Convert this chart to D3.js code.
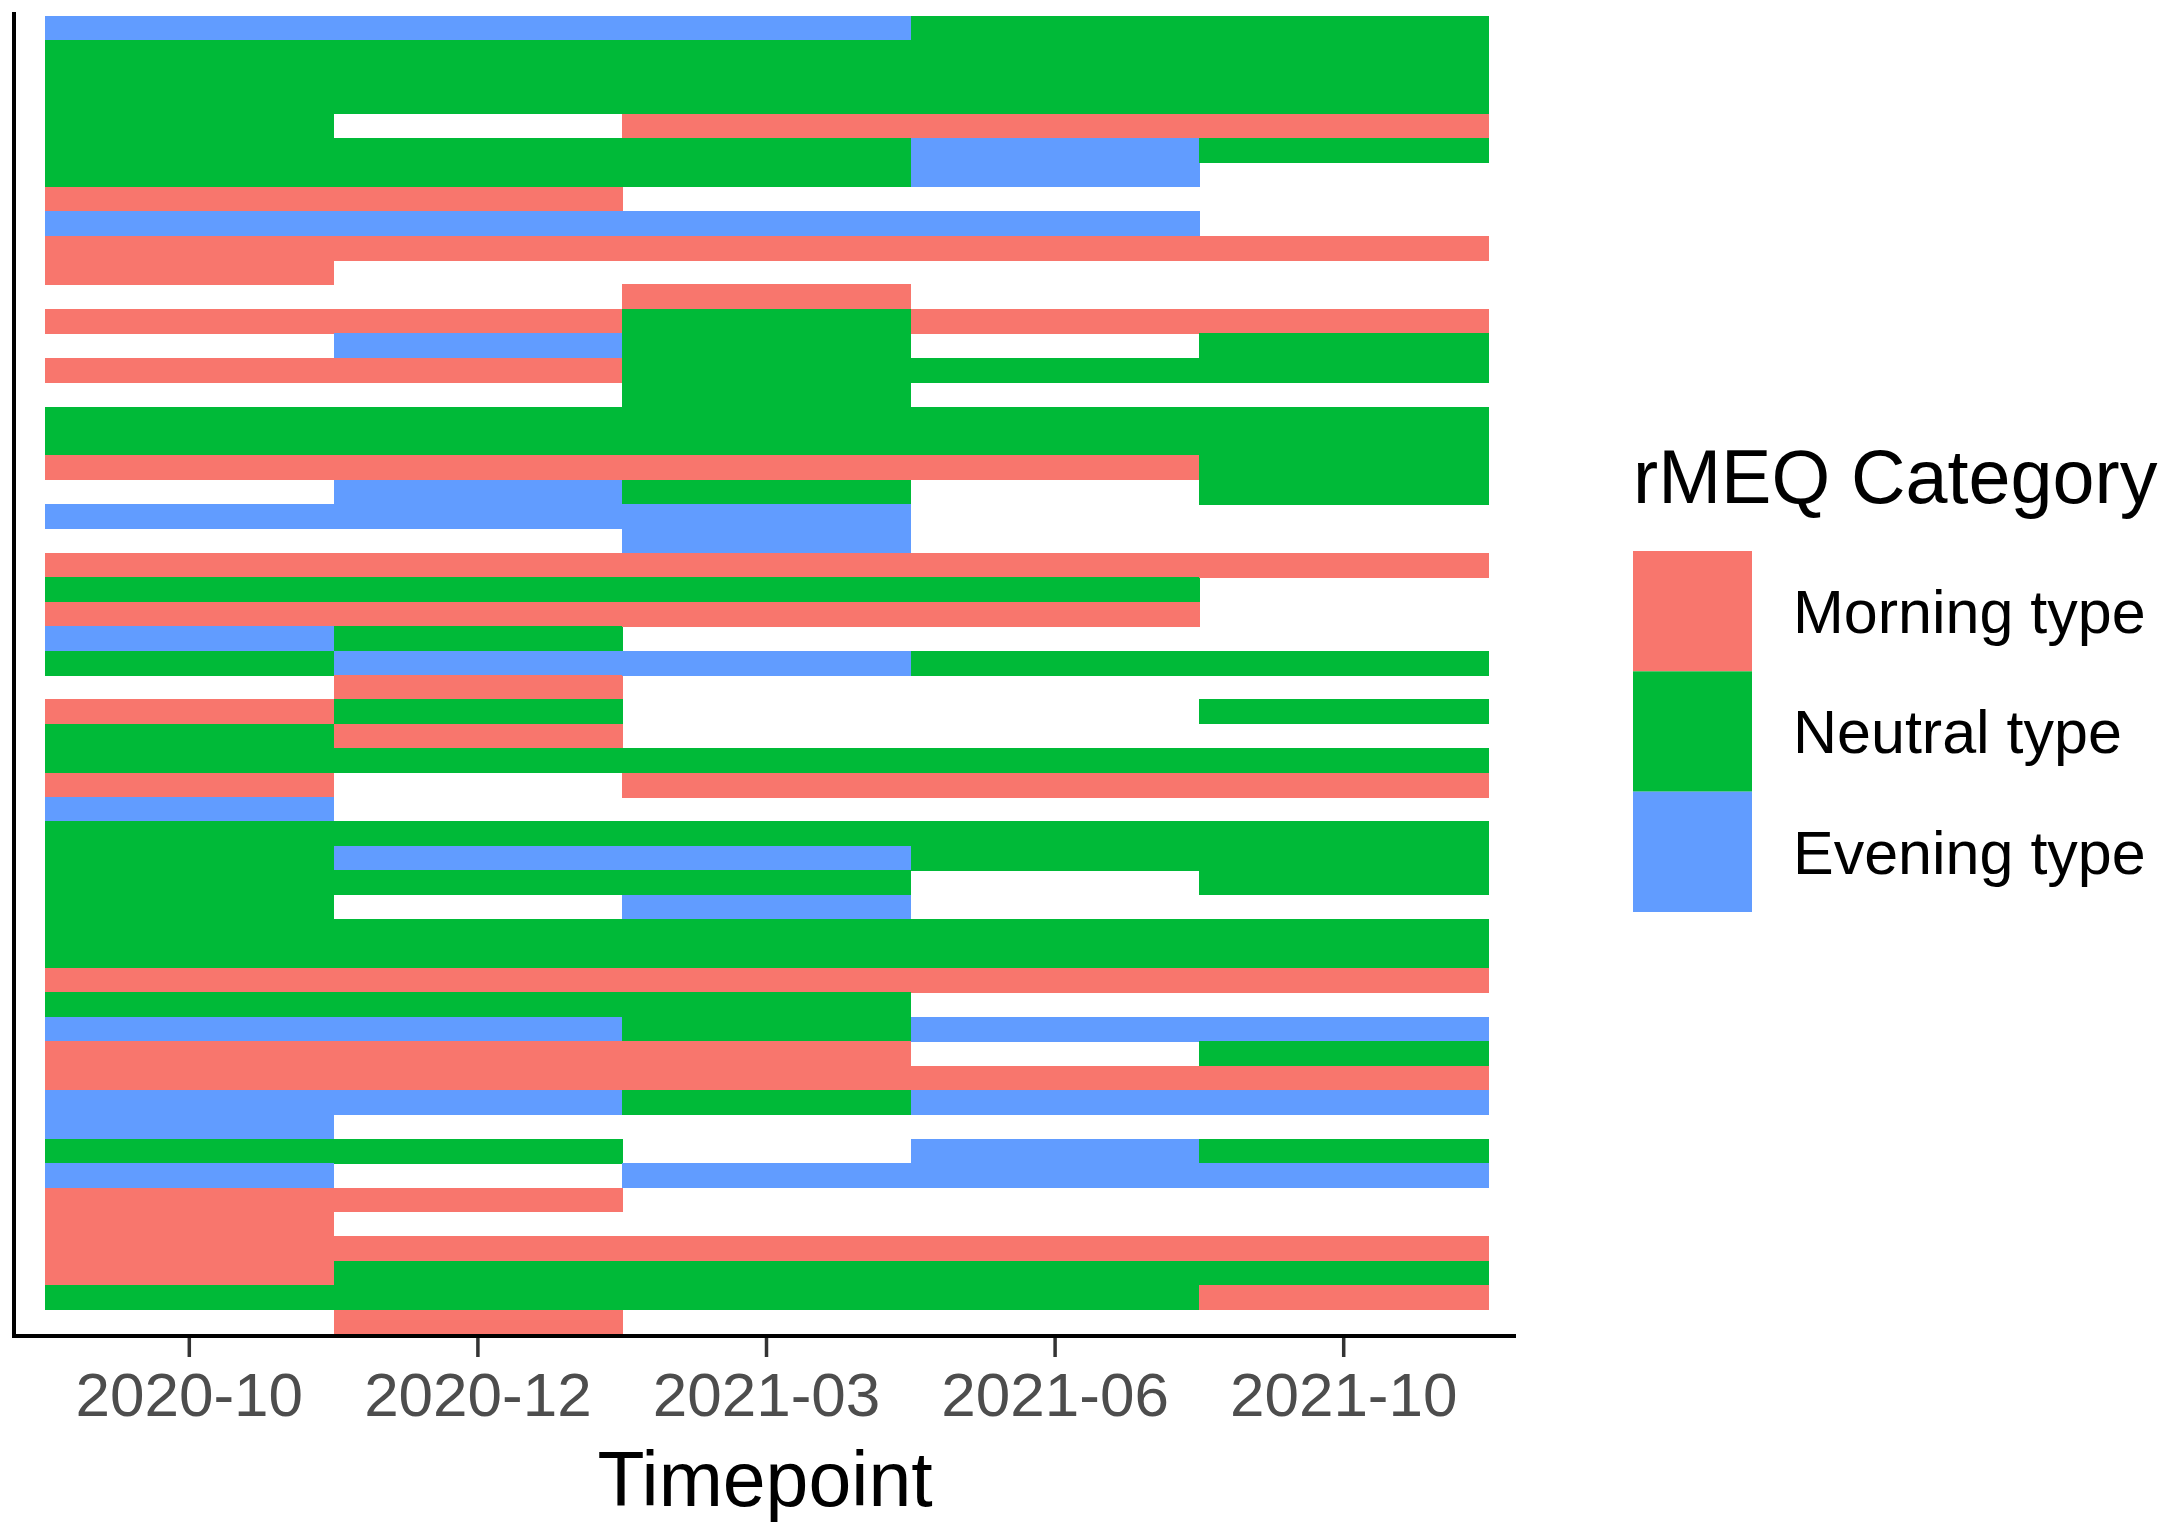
<!DOCTYPE html>
<html>
<head>
<meta charset="utf-8">
<script src="https://cdn.jsdelivr.net/npm/d3@7"></script>
<style>
  html, body { margin: 0; padding: 0; background: #ffffff; }
  svg { display: block; }
</style>
</head>
<body>
<svg id="chart" width="2178" height="1523"></svg>
<script>
// ---- data ----
const timepoints = ["2020-10", "2020-12", "2021-03", "2021-06", "2021-10"];
const categories = ["Morning type", "Neutral type", "Evening type"];
const categoryCodes = ["M", "N", "E"];
const categoryColors = ["#F8766D", "#00BA38", "#619CFF"];

// one array per timepoint, 54 participants each ("" = missing)
const tp2020_10 = ["E","N","N","N","N","N","N","M","E","M","M","","M","","M","","N","N","M","","E","","M","N","M","E","N","","M","N","N","M","E","N","N","N","N","N","N","M","N","E","M","M","E","E","N","E","M","M","M","M","N",""];
const tp2020_12 = ["E","N","N","N","","N","N","M","E","M","","","M","E","M","","N","N","M","E","E","","M","N","M","N","E","M","N","M","N","","","N","E","N","","N","N","M","N","E","M","M","E","","N","","M","","M","N","N","M"];
const tp2021_03 = ["E","N","N","N","M","N","N","","E","M","","M","N","N","N","N","N","N","M","N","E","E","M","N","M","","E","","","","N","M","","N","E","N","E","N","N","M","N","N","M","M","N","","","E","","","M","N","N",""];
const tp2021_06 = ["N","N","N","N","M","E","E","","E","M","","","M","","N","","N","N","M","","","","M","N","M","","N","","","","N","M","","N","N","","","N","N","M","","E","","M","E","","E","E","","","M","N","N",""];
const tp2021_10 = ["N","N","N","N","M","N","","","","M","","","M","N","N","","N","N","N","N","","","M","","","","N","","N","","N","M","","N","N","N","","N","N","M","","E","N","M","E","","N","E","","","M","N","M",""];

const seriesByTimepoint = [tp2020_10, tp2020_12, tp2021_03, tp2021_06, tp2021_10];
const participants = d3.range(tp2020_10.length);

// ---- build cell table ----
const cells = [];
seriesByTimepoint.forEach((series, ti) => {
  series.forEach((code, pi) => {
    if (code) cells.push({ timepoint: timepoints[ti], participant: pi, code });
  });
});

// ---- layout ----
const svg = d3.select("#chart");
const fontFamily = "'Liberation Sans', Arial, Helvetica, sans-serif";

const x = d3.scaleBand().domain(timepoints).range([45, 1488]).padding(0);
const y = d3.scaleBand().domain(participants).range([16, 1334]).padding(0);
const color = d3.scaleOrdinal().domain(categoryCodes).range(categoryColors);

// tiles
svg.append("g")
  .selectAll("rect")
  .data(cells)
  .join("rect")
  .attr("x", d => x(d.timepoint))
  .attr("y", d => y(d.participant))
  .attr("width", x.bandwidth() + 0.5)
  .attr("height", y.bandwidth() + 0.5)
  .attr("fill", d => color(d.code))
  .attr("shape-rendering", "crispEdges");

// y axis line (no ticks / labels)
svg.append("line")
  .attr("x1", 14).attr("x2", 14)
  .attr("y1", 12).attr("y2", 1337)
  .attr("stroke", "#000").attr("stroke-width", 4);

// x axis
const xAxis = d3.axisBottom(x).tickSizeOuter(0).tickSizeInner(22).tickPadding(0);
const gx = svg.append("g")
  .attr("transform", "translate(0,1335)")
  .call(xAxis);
gx.select(".domain").remove();
gx.selectAll(".tick line").attr("stroke", "#333333").attr("stroke-width", 3.5);
gx.selectAll(".tick text")
  .attr("y", 81).attr("dy", null)
  .attr("fill", "#4D4D4D")
  .style("font-family", fontFamily)
  .style("font-size", "62px");

svg.append("line")
  .attr("x1", 12).attr("x2", 1516)
  .attr("y1", 1336).attr("y2", 1336)
  .attr("stroke", "#000").attr("stroke-width", 4);

// x axis title
svg.append("text")
  .attr("x", 765).attr("y", 1506)
  .attr("text-anchor", "middle")
  .style("font-family", fontFamily)
  .style("font-size", "77px")
  .attr("fill", "#000")
  .text("Timepoint");

// legend
const legend = svg.append("g");
legend.append("text")
  .attr("x", 1633).attr("y", 503)
  .style("font-family", fontFamily)
  .style("font-size", "75.5px")
  .attr("fill", "#000")
  .text("rMEQ Category");

const keyY = d3.scaleBand().domain(categories).range([551, 912]).padding(0);
legend.selectAll("rect")
  .data(categories)
  .join("rect")
  .attr("x", 1633)
  .attr("y", d => keyY(d))
  .attr("width", 119)
  .attr("height", keyY.bandwidth())
  .attr("fill", (d, i) => categoryColors[i]);

legend.selectAll("text.lab")
  .data(categories)
  .join("text")
  .attr("class", "lab")
  .attr("x", 1793)
  .attr("y", d => keyY(d) + keyY.bandwidth() / 2)
  .attr("dy", "0.36em")
  .style("font-family", fontFamily)
  .style("font-size", "61px")
  .attr("fill", "#000")
  .text(d => d);
</script>
</body>
</html>
